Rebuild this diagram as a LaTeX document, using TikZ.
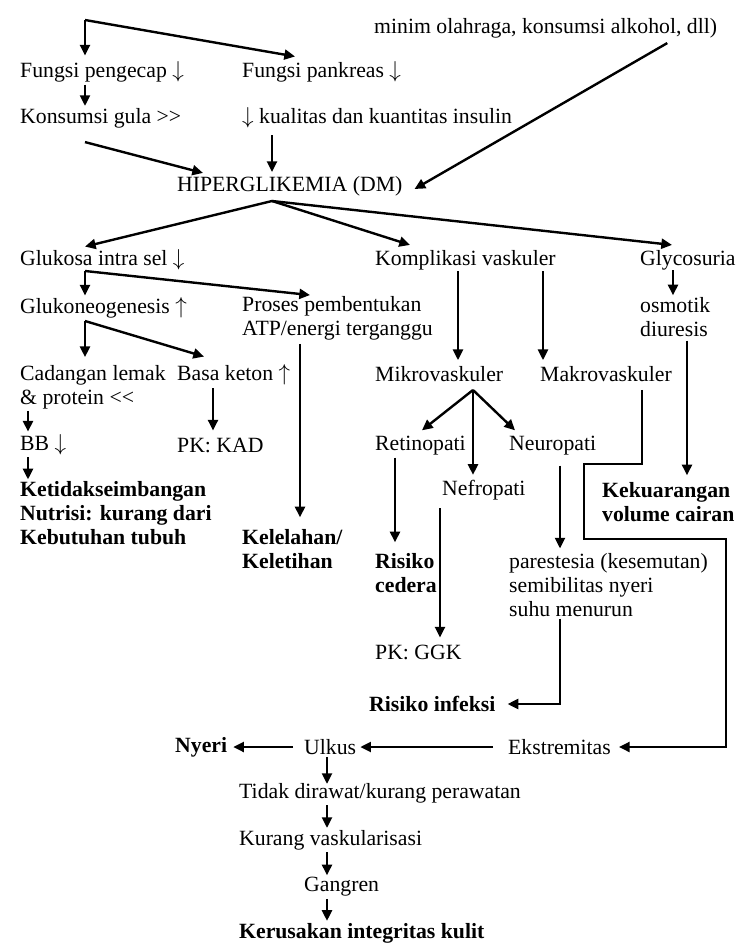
\documentclass[tikz,border=0pt]{standalone}
\usepackage{fontspec}
\setmainfont{Liberation Serif}
\usetikzlibrary{arrows.meta,calc}

\tikzset{every picture/.style={line width=1.8pt}}
\tikzset{
  lbl/.style={anchor=west, inner sep=0.75pt, align=left, font=\fontsize{16.3}{17.8}\selectfont},
  blbl/.style={lbl, font=\fontsize{16.3}{17.8}\selectfont\bfseries},
  arr/.style={-{Triangle[length=8pt,width=7.5pt]}},
}

\begin{document}
\begin{tikzpicture}[x=0.75pt,y=0.75pt,yscale=-1,xscale=1]
%set diagram left start at 0, and has height of 943
\useasboundingbox (0,0) rectangle (736,943);

% Text Node
\draw (372,28) node [lbl] (minim) {minim olahraga, konsumsi alkohol, dll)};
% Text Node
\draw (18,72) node [lbl] (fpeng) {Fungsi pengecap $\downarrow$};
% Text Node
\draw (240,72) node [lbl] (fpank) {Fungsi pankreas $\downarrow$};
% Text Node
\draw (18,118) node [lbl] (kons) {Konsumsi gula >\kern0pt>};
% Text Node
\draw (240,118) node [lbl] (kual) {$\downarrow$ kualitas dan kuantitas insulin};
% Text Node
\draw (175,186) node [lbl] (hiper) {HIPERGLIKEMIA (DM)};
% Text Node
\draw (18,260) node [lbl] (glu) {Glukosa intra sel $\downarrow$};
% Text Node
\draw (373,260) node [lbl] (komp) {Komplikasi vaskuler};
% Text Node
\draw (638,260) node [lbl] (glyc) {Glycosuria};
% Text Node
\draw (18,308) node [lbl] (gneo) {Glukoneogenesis $\uparrow$};
% Text Node
\draw (240,318) node [lbl] (proses) {Proses pembentukan\\ATP/energi terganggu};
% Text Node
\draw (638,317) node [lbl] (osmo) {osmotik\\diuresis};
% Text Node
\draw (18,387) node [lbl] (cad) {Cadangan lemak\\\& protein <\kern0pt<};
% Text Node
\draw (175,375) node [lbl] (basa) {Basa keton $\uparrow$};
% Text Node
\draw (373,374) node [lbl] (mikro) {Mikrovaskuler};
% Text Node
\draw (538,374) node [lbl] (makro) {Makrovaskuler};
% Text Node
\draw (18,445) node [lbl] (bb) {BB $\downarrow$};
% Text Node
\draw (175,445) node [lbl] (kad) {PK: KAD};
% Text Node
\draw (373,446) node [lbl] (retino) {Retinopati};
% Text Node
\draw (507,446) node [lbl] (neuro) {Neuropati};
% Text Node
\draw (18,513) node [blbl] (nutri) {Ketidakseimbangan\\Nutrisi: kurang dari\\Kebutuhan tubuh};
% Text Node
\draw (440,490) node [lbl] (nefro) {Nefropati};
% Text Node
\draw (600,502) node [blbl] (kekur) {Kekuarangan\\volume cairan};
% Text Node
\draw (240,549) node [blbl] (kelel) {Kelelahan/\\Keletihan};
% Text Node
\draw (373,573) node [blbl] (risced) {Risiko\\cedera};
% Text Node
\draw (507,585) node [lbl] (pares) {parestesia (kesemutan)\\semibilitas nyeri\\suhu menurun};
% Text Node
\draw (373,652) node [lbl] (ggk) {PK: GGK};
% Text Node
\draw (367,704) node [blbl] (rinf) {Risiko infeksi};
% Text Node
\draw (173,747) node [blbl] (nyeri) {Nyeri};
% Text Node
\draw (302,747) node [lbl] (ulkus) {Ulkus};
% Text Node
\draw (506,747) node [lbl] (ekst) {Ekstremitas};
% Text Node
\draw (237,793) node [lbl] (tidak) {Tidak dirawat/kurang perawatan};
% Text Node
\draw (237,840) node [lbl] (kurang) {Kurang vaskularisasi};
% Text Node
\draw (302,887) node [lbl] (gang) {Gangren};
% Text Node
\draw (237,933) node [blbl] (kerus) {Kerusakan integritas kulit};

% branch points
\coordinate (top) at (85,20);
\coordinate (hx) at (272,201);
\coordinate (gx) at (85,271);
\coordinate (gn) at (85,321);
\coordinate (mx) at (473,390);
\coordinate (ux) at (327,0);

%Straight Lines
\draw [arr] (top) -- ($(top |- fpeng.north)+(0,-4)$);
\draw [arr] (top) -- ($(fpank.north west)+(55,-3)$);
\draw [arr] (top |- fpeng.south) -- (top |- kons.north);
\draw [arr] ($(kons.south west)+(67,12)$) -- ($(hiper.north west)+(28,-1)$);
\draw [arr] ($(hx |- kual.south)+(0,5)$) -- ($(hx |- hiper.north)+(0,-2)$);
\draw [arr] ($(minim.south east)+(-52,3)$) -- ($(hiper.east)+(10,3)$);
%Straight Lines
\draw [arr] (hx) -- ($(glu.north west)+(67,-1)$);
\draw [arr] (hx) -- ($(komp.north west)+(37,-3)$);
\draw [arr] (hx) -- ($(glyc.north west)+(34,-3)$);
%Straight Lines
\draw [arr] (gx) -- (gx |- gneo.north);
\draw [arr] (gx) -- ($(proses.north west)+(70,1)$);
\draw [arr] ($(glyc.south west)+(35,-2)$) -- ($(osmo.north west)+(35,0)$);
\draw [arr] ($(komp.south west)+(85,-1)$) -- ($(mikro.north west)+(85,-4)$);
\draw [arr] ($(komp.south west)+(170,-1)$) -- ($(makro.north west)+(5,-4)$);
%Straight Lines
\draw [arr] (gn) -- ($(gn |- cad.north)+(0,-6)$);
\draw [arr] (gn) -- ($(basa.north west)+(29,-6)$);
\draw [arr] ($(cad.south west)+(10,0)$) -- ($(bb.north west)+(10,-1)$);
\draw [arr] ($(basa.south west)+(38,1)$) -- ($(kad.north west)+(38,-5)$);
\draw [arr] ($(bb.south west)+(10,0)$) -- ($(nutri.north west)+(10,0)$);
\draw [arr] ($(proses.south west)+(60,2)$) -- ($(kelel.north west)+(60,-10)$);
\draw [arr] ($(osmo.south west)+(49,2)$) -- ($(osmo.south west |- kekur.north)+(49,-5)$);
%Straight Lines
\draw [arr] (mx) -- ($(retino.north west)+(49,-4)$);
\draw [arr] (mx) -- ($(neuro.north west)+(8,-4)$);
\draw [arr] (mx) -- ($(mx |- nefro.north)+(0,-3)$);
\draw [arr] ($(retino.south west)+(22,0)$) -- ($(risced.north west)+(22,-9)$);
\draw [arr] ($(nefro.south west)+(0,6)$) -- ($(ggk.north -| nefro.west)+(0,-5)$);
\draw [arr] ($(neuro.south west)+(53,8)$) -- ($(pares.north west)+(53,-3)$);
\draw [arr] ($(pares.south west)+(53,0)$) |- ($(rinf.east)+(10,0)$);
%Straight Lines
\draw [arr] ($(makro.south east)+(-32,6)$) -- ++(0,74) -- ++(-58,0) -- ++(0,75) -- ++(142,0) |- ($(ekst.east)+(6,0)$);
\draw [arr] ($(ekst.west)+(-13,0)$) -- ($(ulkus.east)+(2,0)$);
\draw [arr] ($(ulkus.west)+(-9,0)$) -- ($(nyeri.east)+(4,0)$);
%Straight Lines
\draw [arr] (ux |- ulkus.south) -- ($(ux |- tidak.north)+(0,3)$);
\draw [arr] (ux |- tidak.south) -- (ux |- kurang.north);
\draw [arr] (ux |- kurang.south) -- (ux |- gang.north);
\draw [arr] (ux |- gang.south) -- (ux |- kerus.north);

\end{tikzpicture}
\end{document}
